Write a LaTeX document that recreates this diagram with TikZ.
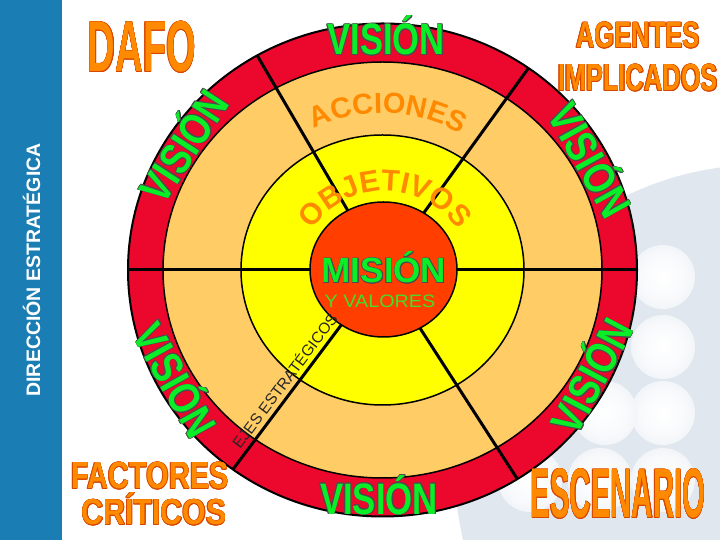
\documentclass[tikz,border=0pt]{standalone}
\usepackage{fontspec}
\setmainfont{Liberation Sans}
\usepackage[copies]{contour}
\usetikzlibrary{decorations.text}
\definecolor{anillorojo}{RGB}{236,8,44}
\definecolor{melocoton}{RGB}{255,204,102}
\definecolor{amarillo}{RGB}{255,255,0}
\definecolor{naranjafuerte}{RGB}{255,62,0}
\definecolor{verdevision}{RGB}{10,238,40}
\definecolor{verdevalores}{RGB}{70,220,40}
\definecolor{naranjatexto}{RGB}{255,138,0}
\definecolor{bordenaranja}{RGB}{215,70,0}
\definecolor{azulbarra}{RGB}{26,125,180}
\definecolor{fondoazul}{RGB}{224,231,239}
\contourlength{0.7pt}
\contournumber{12}
\pgfdeclareradialshading{fondo}{\pgfpoint{0bp}{0bp}}{color(0bp)=(fondoazul); color(42bp)=(fondoazul); color(50bp)=(white)}
\pgfdeclareradialshading{burbuja}{\pgfpoint{0bp}{0bp}}{color(0bp)=(white); color(16bp)=(white!80!fondoazul); color(50bp)=(fondoazul)}
\tikzset{
    %Define style for the orange titles
    titulo/.style={
           anchor=base,
           inner sep=0pt,
           text=naranjatexto},
    %Define style for the green labels on the ring
    vision/.style={
           anchor=center,
           inner sep=0pt,
           text=verdevision,
           font=\bfseries\fontsize{44}{44}\selectfont,
           text height=31.5pt,
           text depth=0pt},
    % Define style for lines
    borde/.style={draw=black, line width=1.5pt},
    radio/.style={draw=black, line width=3pt}
}
\begin{document}
\begin{tikzpicture}[x=1pt,y=1pt]
\useasboundingbox (0,0) rectangle (720,540);
\clip (0,0) rectangle (720,540);
 %background
\fill[white] (0,0) rectangle (720,540);
\shade[shading=fondo] (760,70) circle (305);
\foreach \bx/\by in {663/263, 663/193, 663/127, 605/127, 663/60, 600/60, 530/60}
  \shade[shading=burbuja] (\bx,\by) circle (32);
\fill[azulbarra] (0,0) rectangle (62,540);
\node[inner sep=0pt, rotate=90, text=white, font=\bfseries\fontsize{19.5}{19.5}\selectfont,
      text height=14pt, text depth=0pt] (direccion) at (33,270) {DIRECCIÓN ESTRATÉGICA};

 %rings
\coordinate (centro) at (382.5,270);
\filldraw[fill=anillorojo, draw=black, line width=2pt] (centro) ellipse [x radius=254.5, y radius=246.5];
\filldraw[fill=melocoton, borde] (centro) ellipse [x radius=219.5, y radius=208];
\filldraw[fill=amarillo, borde] (centro) ellipse [x radius=141.5, y radius=135];

 %spokes
\foreach \ang/\nom in {55/ne, 119.5/no, 234/so, 302/se}{
  \coordinate (radio\nom) at ({382.5+254.5*cos(\ang)},{270+246.5*sin(\ang)});
  \draw[radio] (centro) -- (radio\nom);
}
\coordinate (oeste) at (128,270);
\coordinate (este) at (637,270);
\draw[radio] (oeste) -- (este);
\filldraw[fill=naranjafuerte, borde] (383.5,270.5) ellipse [x radius=73.5, y radius=67.5];

 %texts on the rings
\path[decorate, decoration={text along path, text align=center, text color=naranjatexto,
      text={|\bfseries\fontsize{29}{29}\selectfont|ACCIONES}}]
  (centro) ++(118:157) arc[start angle=118, end angle=58, radius=157];
\path[decorate, decoration={text along path, text align=center, text color=naranjatexto,
      text={|\bfseries\fontsize{30}{30}\selectfont|OBJETIVOS}}]
  (385,261) ++(152:88) arc[start angle=152, end angle=28, radius=88];
\node[inner sep=0pt, rotate=53, text=black!85, font=\fontsize{15.5}{15.5}\selectfont,
      text height=11pt, text depth=0pt] (ejes) at (285,159) {EJES ESTRATÉGICOS};

\node[titulo, font=\bfseries\fontsize{35}{35}\selectfont, text=verdevision] (mision) at (384,257) {\contour{black!70}{MISIÓN}};
\node[titulo, xscale=1.1, font=\fontsize{18}{18}\selectfont, text=verdevalores] (valores) at (380,232) {Y VALORES};

\node[vision, xscale=0.785] (visionN) at (386,501) {\contour{black!70}{VISIÓN}};
\node[vision, xscale=0.79] (visionS) at (379,41.5) {\contour{black!70}{VISIÓN}};
\node[vision, rotate=57, xscale=0.82] (visionNO) at ({382.5+237*cos(147)},{270+227*sin(147)}) {\contour{black!70}{VISIÓN}};
\node[vision, rotate=-61, xscale=0.82] (visionNE) at ({382.5+237*cos(29)},{270+227*sin(29)}) {\contour{black!70}{VISIÓN}};
\node[vision, rotate=-61, xscale=0.82] (visionSO) at ({382.5+237*cos(209)},{270+227*sin(209)}) {\contour{black!70}{VISIÓN}};
\node[vision, rotate=62, xscale=0.82] (visionSE) at ({382.5+237*cos(-28)},{270+227*sin(-28)}) {\contour{black!70}{VISIÓN}};

 %titles
\node[titulo, xscale=0.53, font=\bfseries\fontsize{72}{72}\selectfont] (dafo) at (142,468) {\contour{bordenaranja}{DAFO}};
\node[titulo, xscale=0.70, font=\bfseries\fontsize{36.5}{36.5}\selectfont] (agentes) at (638,492) {\contour{bordenaranja}{AGENTES}};
\node[titulo, xscale=0.675, font=\bfseries\fontsize{37.7}{37.7}\selectfont] (implicados) at (638,449) {\contour{bordenaranja}{IMPLICADOS}};
\node[titulo, xscale=0.77, font=\bfseries\fontsize{37.7}{37.7}\selectfont] (factores) at (150,51) {\contour{bordenaranja}{FACTORES}};
\node[titulo, xscale=0.84, font=\bfseries\fontsize{36}{36}\selectfont] (criticos) at (154,15) {\contour{bordenaranja}{CRÍTICOS}};
\node[titulo, xscale=0.42, font=\bfseries\fontsize{70}{70}\selectfont] (escenario) at (618,22) {\contour{bordenaranja}{ESCENARIO}};

\end{tikzpicture}
\end{document}
